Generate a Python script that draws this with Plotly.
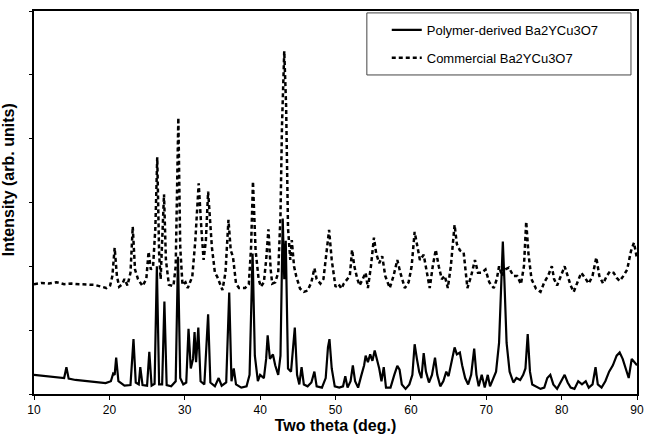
import plotly.graph_objects as go

# Two-theta (deg.) and intensity (arb. units)
polymer_x = [10.0, 10.8, 11.5, 12.5, 13.5, 14.0, 14.3, 14.6, 15.5, 16.5, 17.5, 18.5, 19.5, 20.2, 20.5, 20.7, 20.9, 21.2,
             22.0, 22.8, 23.2, 23.5, 23.9, 24.1, 24.4, 25.0, 25.3, 25.6, 26.0, 26.3, 26.6, 27.0, 27.3, 27.6, 28.2, 28.8,
             29.1, 29.4, 29.8, 30.2, 30.5, 30.8, 31.1, 31.3, 31.5, 31.8, 32.1, 32.6, 33.1, 33.4, 34.0, 34.5, 34.9, 35.5,
             35.9, 36.2, 36.5, 36.8, 37.5, 38.2, 38.6, 39.0, 39.3, 39.7, 40.0, 40.5, 40.8, 41.0, 41.3, 41.7, 42.0, 42.4,
             42.7, 43.0, 43.2, 43.4, 43.7, 44.1, 44.4, 44.6, 44.9, 45.2, 45.5, 45.8, 46.3, 46.8, 47.2, 47.5, 48.2, 48.7,
             49.0, 49.2, 49.5, 49.9, 50.5, 51.0, 51.3, 51.6, 52.0, 52.3, 52.6, 53.0, 53.4, 53.8, 54.0, 54.3, 54.6, 54.9,
             55.2, 55.5, 55.8, 56.1, 56.4, 56.7, 57.3, 57.8, 58.2, 58.5, 58.8, 59.3, 59.8, 60.2, 60.5, 60.8, 61.1, 61.4,
             61.7, 62.0, 62.4, 62.8, 63.2, 63.5, 63.9, 64.3, 64.7, 65.0, 65.5, 65.8, 66.1, 66.5, 66.8, 67.2, 67.6, 68.0,
             68.4, 68.7, 69.0, 69.4, 69.8, 70.2, 70.5, 70.9, 71.3, 71.7, 72.0, 72.2, 72.4, 72.7, 73.1, 73.6, 74.0, 74.5,
             74.9, 75.2, 75.5, 75.8, 76.1, 76.6, 77.2, 77.7, 78.1, 78.5, 78.9, 79.4, 79.9, 80.4, 80.8, 81.2, 81.7, 82.2,
             82.7, 83.2, 83.6, 84.1, 84.5, 84.8, 85.3, 85.8, 86.3, 86.8, 87.3, 87.7, 88.1, 88.5, 88.9, 89.3, 89.7, 90.0]
polymer_y = [0.30, 0.29, 0.28, 0.26, 0.25, 0.25, 0.42, 0.24, 0.22, 0.21, 0.20, 0.18, 0.17, 0.20, 0.32, 0.30, 0.57, 0.20,
             0.13, 0.14, 0.86, 0.18, 0.15, 0.42, 0.14, 0.13, 0.66, 0.13, 0.16, 2.00, 0.15, 0.15, 1.45, 0.14, 0.12, 0.20,
             2.15, 0.25, 0.15, 0.18, 1.02, 0.40, 0.55, 0.97, 0.50, 1.04, 0.20, 0.15, 1.25, 0.18, 0.12, 0.25, 0.13, 0.18,
             1.59, 0.20, 0.40, 0.15, 0.10, 0.12, 0.30, 2.20, 0.60, 0.20, 0.30, 0.25, 0.55, 0.92, 0.55, 0.62, 0.45, 0.30,
             0.60, 2.75, 1.80, 2.40, 0.40, 0.35, 0.76, 1.04, 0.30, 0.15, 0.42, 0.15, 0.12, 0.18, 0.35, 0.12, 0.10, 0.25,
             0.73, 0.86, 0.40, 0.12, 0.10, 0.12, 0.28, 0.10, 0.20, 0.45, 0.20, 0.10, 0.28, 0.45, 0.60, 0.50, 0.62, 0.52,
             0.68, 0.55, 0.40, 0.20, 0.42, 0.10, 0.10, 0.30, 0.44, 0.38, 0.15, 0.08, 0.15, 0.30, 0.78, 0.55, 0.35, 0.25,
             0.64, 0.35, 0.18, 0.30, 0.57, 0.30, 0.12, 0.20, 0.35, 0.28, 0.60, 0.73, 0.62, 0.65, 0.45, 0.25, 0.15, 0.30,
             0.71, 0.30, 0.12, 0.30, 0.10, 0.30, 0.12, 0.25, 0.35, 0.80, 1.80, 2.39, 1.80, 0.80, 0.35, 0.18, 0.25, 0.22,
             0.30, 0.40, 0.94, 0.35, 0.15, 0.12, 0.08, 0.10, 0.25, 0.30, 0.15, 0.08, 0.20, 0.30, 0.18, 0.10, 0.08, 0.20,
             0.15, 0.20, 0.10, 0.15, 0.42, 0.15, 0.10, 0.20, 0.35, 0.45, 0.60, 0.65, 0.55, 0.40, 0.25, 0.55, 0.50, 0.45]

commercial_x = [10.0, 11.0, 12.0, 13.0, 14.0, 15.0, 16.0, 17.0, 18.0, 19.0, 19.6, 20.1, 20.4, 20.7, 21.0, 21.3, 21.7,
                22.0, 22.4, 22.8, 23.1, 23.4, 23.8, 24.4, 24.9, 25.2, 25.5, 25.8, 26.1, 26.35, 26.6, 26.8, 27.0, 27.25,
                27.5, 27.9, 28.5, 28.8, 29.15, 29.4, 29.7, 30.1, 30.4, 31.0, 31.4, 31.85, 32.2, 32.5, 32.8, 33.1, 33.6,
                34.0, 34.3, 35.0, 35.4, 35.8, 36.1, 36.4, 36.8, 37.2, 38.0, 38.5, 38.8, 39.05, 39.4, 39.8, 40.1, 40.5,
                40.8, 41.1, 41.4, 41.6, 42.0, 42.4, 42.7, 42.9, 43.2, 43.45, 43.7, 44.0, 44.2, 44.5, 44.8, 45.3, 45.8,
                46.3, 46.8, 47.2, 47.5, 48.0, 48.4, 48.8, 49.15, 49.5, 50.0, 50.4, 50.8, 51.1, 51.5, 51.9, 52.2, 52.5,
                52.9, 53.2, 53.6, 54.0, 54.3, 54.7, 55.1, 55.4, 55.8, 56.2, 56.6, 57.2, 57.7, 58.2, 58.6, 59.2, 59.7,
                60.1, 60.5, 60.8, 61.2, 61.7, 62.1, 62.5, 62.9, 63.3, 63.7, 64.1, 64.5, 64.9, 65.3, 65.8, 66.1, 66.5,
                67.0, 67.5, 68.0, 68.5, 68.9, 69.4, 69.9, 70.4, 71.0, 71.4, 71.7, 72.1, 72.5, 73.0, 73.6, 74.1, 74.6,
                75.0, 75.3, 75.6, 76.0, 76.6, 77.2, 77.7, 78.2, 78.7, 79.0, 79.4, 79.9, 80.4, 80.8, 81.2, 81.6, 82.1,
                82.6, 83.1, 83.6, 84.1, 84.6, 85.0, 85.5, 86.0, 86.4, 86.9, 87.3, 87.7, 88.2, 88.7, 89.2, 89.6, 90.0]
commercial_y = [1.72, 1.74, 1.73, 1.75, 1.72, 1.73, 1.72, 1.71, 1.71, 1.68, 1.66, 1.70, 1.85, 2.29, 1.85, 1.68, 1.72,
                1.80, 1.70, 1.90, 2.62, 1.95, 1.80, 1.69, 1.80, 2.23, 1.95, 2.00, 2.60, 3.71, 2.20, 1.80, 2.30, 3.13,
                2.10, 1.71, 1.69, 2.00, 4.33, 2.30, 1.71, 1.75, 1.66, 1.84, 2.40, 3.30, 2.60, 2.10, 2.40, 3.17, 2.30,
                1.90, 1.84, 1.63, 1.90, 2.73, 2.25, 2.15, 1.73, 1.66, 1.66, 1.72, 2.30, 3.33, 2.25, 1.80, 1.68, 1.75,
                2.10, 2.58, 1.95, 1.73, 1.75, 1.90, 2.80, 4.20, 5.37, 4.50, 2.60, 2.10, 2.41, 2.00, 1.84, 1.65, 1.60,
                1.62, 1.75, 1.97, 1.80, 1.73, 1.80, 2.20, 2.57, 2.10, 1.68, 1.72, 1.65, 1.73, 1.80, 1.85, 2.26, 2.00,
                1.80, 1.70, 1.80, 1.90, 1.66, 2.00, 2.45, 2.20, 2.05, 2.16, 1.85, 1.66, 1.85, 2.10, 1.90, 1.66, 1.75,
                2.00, 2.54, 2.35, 2.10, 2.18, 1.90, 1.66, 2.00, 2.26, 2.00, 1.80, 1.85, 1.66, 2.00, 2.65, 2.35, 2.25,
                2.22, 1.66, 1.85, 2.10, 1.90, 1.90, 1.95, 1.75, 1.66, 1.80, 2.00, 1.85, 1.95, 1.98, 1.85, 1.85, 1.72,
                2.00, 2.70, 2.20, 1.80, 1.65, 1.60, 1.75, 1.85, 2.00, 1.80, 1.70, 1.85, 2.00, 1.85, 1.70, 1.60, 1.75,
                1.90, 1.82, 1.73, 1.85, 2.14, 1.85, 1.73, 1.85, 1.92, 1.90, 1.82, 1.77, 1.85, 1.95, 2.24, 2.37, 2.12]

x_ticks = [10, 20, 30, 40, 50, 60, 70, 80, 90]
series_names = ["Polymer-derived Ba2YCu3O7", "Commercial Ba2YCu3O7"]

FONT = "Liberation Sans, Arial, sans-serif"

fig = go.Figure()
fig.add_trace(go.Scatter(x=polymer_x, y=polymer_y, mode="lines", name=series_names[0],
                         legendgroup="a", line=dict(color="black", width=2.2)))
fig.add_trace(go.Scatter(x=commercial_x, y=commercial_y, mode="lines", name=series_names[1],
                         legendgroup="b", line=dict(color="black", width=2.5, dash="4px,3px")))

fig.update_layout(
    template="none",
    width=645, height=445,
    margin=dict(l=34, r=8, t=11, b=51, autoexpand=False),
    paper_bgcolor="white", plot_bgcolor="white",
    font=dict(family=FONT, color="black", size=12),
    showlegend=True,
    legend=dict(x=0.585, y=0.99, xanchor="left", yanchor="top",
                bgcolor="rgba(0,0,0,0)", borderwidth=0,
                font=dict(size=13, family=FONT), tracegroupgap=8),
    shapes=[dict(type="rect", xref="paper", yref="paper", x0=0.552, x1=0.99, y0=0.833, y1=0.995,
                 line=dict(color="#444", width=1), fillcolor="rgba(0,0,0,0)")],
    annotations=[dict(text="<b>Intensity (arb. units)</b>", textangle=-90, xref="paper", yref="paper",
                      x=-0.042, y=0.56, xanchor="center", yanchor="middle", showarrow=False,
                      font=dict(size=16, family=FONT))],
)
fig.update_xaxes(range=[10, 90], tickvals=x_ticks, ticktext=[str(t) for t in x_ticks], automargin=False,
                 ticklabeloverflow="allow",
                 showline=True, mirror=True, linecolor="black", linewidth=1.5,
                 ticks="outside", ticklen=4, tickcolor="black", showgrid=False, zeroline=False,
                 tickfont=dict(size=12),
                 title=dict(text="<b>Two theta (deg.)</b>", font=dict(size=16), standoff=4))
fig.update_yaxes(range=[0, 6], dtick=1, showticklabels=False, automargin=False,
                 showline=True, mirror=True, linecolor="black", linewidth=1.5,
                 ticks="outside", ticklen=3, tickcolor="black", showgrid=False, zeroline=False)

fig.write_html("out.html", config={"displayModeBar": False},
               post_script="document.body.style.margin='0';")
